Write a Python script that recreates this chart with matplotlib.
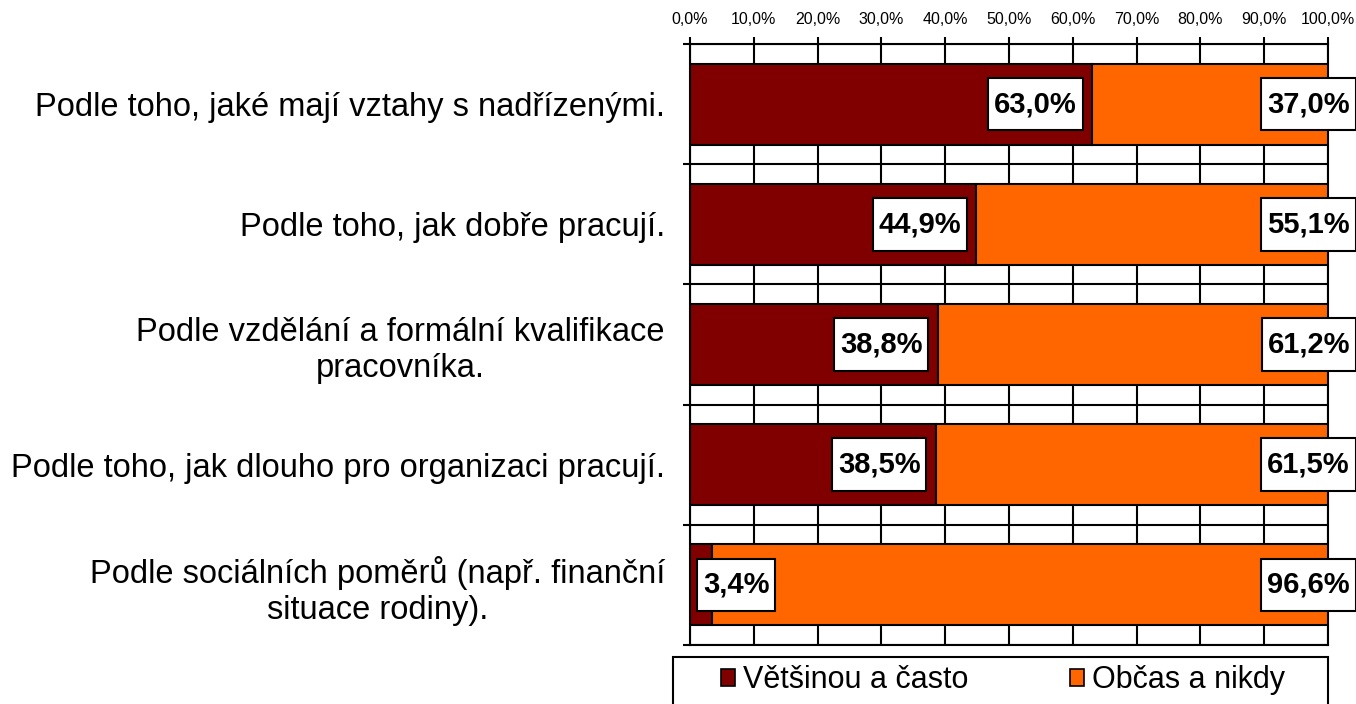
import matplotlib
matplotlib.use("Agg")
import matplotlib.pyplot as plt
import numpy as np
from matplotlib.ticker import FixedLocator, FuncFormatter
from matplotlib.patches import Patch, Rectangle
from matplotlib.path import Path

plt.rcParams['font.family'] = ['Liberation Sans', 'DejaVu Sans']

categories = [
    "Podle toho, jaké mají vztahy s nadřízenými.",
    "Podle toho, jak dobře pracují.",
    "Podle vzdělání a formální kvalifikace\npracovníka.",
    "Podle toho, jak dlouho pro organizaci pracují.",
    "Podle sociálních poměrů (např. finanční\nsituace rodiny).",
]
often = [63.0, 44.9, 38.8, 38.5, 3.4]
rarely = [37.0, 55.1, 61.2, 61.5, 96.6]
series_names = ["Většinou a často", "Občas a nikdy"]
colors = ["#800000", "#FF6600"]


def tallbox(x0, y0, width, height, mutation_size):
    # label box: narrow side padding, taller top/bottom padding
    px = 0.2 * mutation_size
    py = 0.42 * mutation_size
    x0, y0 = x0 - px, y0 - py
    x1, y1 = x0 + width + 2 * px, y0 + height + 2 * py
    return Path([(x0, y0), (x1, y0), (x1, y1), (x0, y1), (x0, y0)], closed=True)


fig = plt.figure(figsize=(13.56, 7.04), dpi=100)
ax = fig.add_axes([690/1356, 1 - 645/704, 638/1356, 601/704])

y = np.arange(len(categories))
h = 0.675
ax.barh(y, often, height=h, color=colors[0], edgecolor='black', lw=1.5, zorder=3)
ax.barh(y, rarely, left=often, height=h, color=colors[1], edgecolor='black', lw=1.5, zorder=3)

ax.set_xlim(0, 100)
ax.set_ylim(len(categories) - 0.5, -0.5)

# x axis on top
ax.xaxis.tick_top()
ax.set_xticks(np.arange(0, 101, 10))
ax.xaxis.set_major_formatter(FuncFormatter(lambda v, p: f"{v:.1f}%".replace('.', ',')))
ax.tick_params(axis='x', which='major', length=5, width=1.5, direction='out',
               labelsize=11.5, pad=7)
ax.xaxis.grid(True, color='black', lw=1.5, zorder=1)

# y: labels at categories, lines at boundaries
ax.set_yticks(y)
ax.set_yticklabels(categories, fontsize=23.5, multialignment='center')
ax.tick_params(axis='y', which='major', length=0, pad=18)
ax.yaxis.set_minor_locator(FixedLocator(np.arange(-0.5, len(categories), 1)))
ax.tick_params(axis='y', which='minor', length=5, width=1.5, direction='out')
ax.yaxis.grid(True, which='minor', color='black', lw=1.5, zorder=1)
ax.set_axisbelow(True)

for s in ax.spines.values():
    s.set_linewidth(1.5)
    s.set_color('black')

box = dict(boxstyle=tallbox, fc='white', ec='black', lw=1.5)
for i, (a, b) in enumerate(zip(often, rarely)):
    la = f"{a:.1f}%".replace('.', ',')
    lb = f"{b:.1f}%".replace('.', ',')
    if a < 15:
        ax.annotate(la, xy=(0, i), xytext=(9.4, 0), textcoords='offset points',
                    ha='left', va='center', fontsize=21, fontweight='bold',
                    bbox=box, zorder=5, annotation_clip=False)
    else:
        ax.annotate(la, xy=(a, i), xytext=(-10.8, 0), textcoords='offset points',
                    ha='right', va='center', fontsize=21, fontweight='bold',
                    bbox=box, zorder=5, annotation_clip=False)
    ax.annotate(lb, xy=(100, i), xytext=(15.8, 0), textcoords='offset points',
                ha='right', va='center', fontsize=21, fontweight='bold',
                bbox=box, zorder=5, annotation_clip=False)

# legend frame drawn separately, legend content centred in it
fig.patches.append(Rectangle((673/1356, -0.05), 655/1356, 0.05 + 1 - 657/704,
                             transform=fig.transFigure, fc='white', ec='black',
                             lw=1.5, zorder=0))
handles = [Patch(facecolor=c, edgecolor='black', lw=1.2) for c in colors]
fig.legend(handles, series_names, loc='center', ncol=2,
           bbox_to_anchor=(1003/1356, 1 - 680/704),
           fontsize=22, frameon=False,
           handlelength=0.48, handleheight=0.48, handletextpad=0.26,
           columnspacing=3.3, borderpad=0, borderaxespad=0)

fig.savefig("out.png", dpi=100)
